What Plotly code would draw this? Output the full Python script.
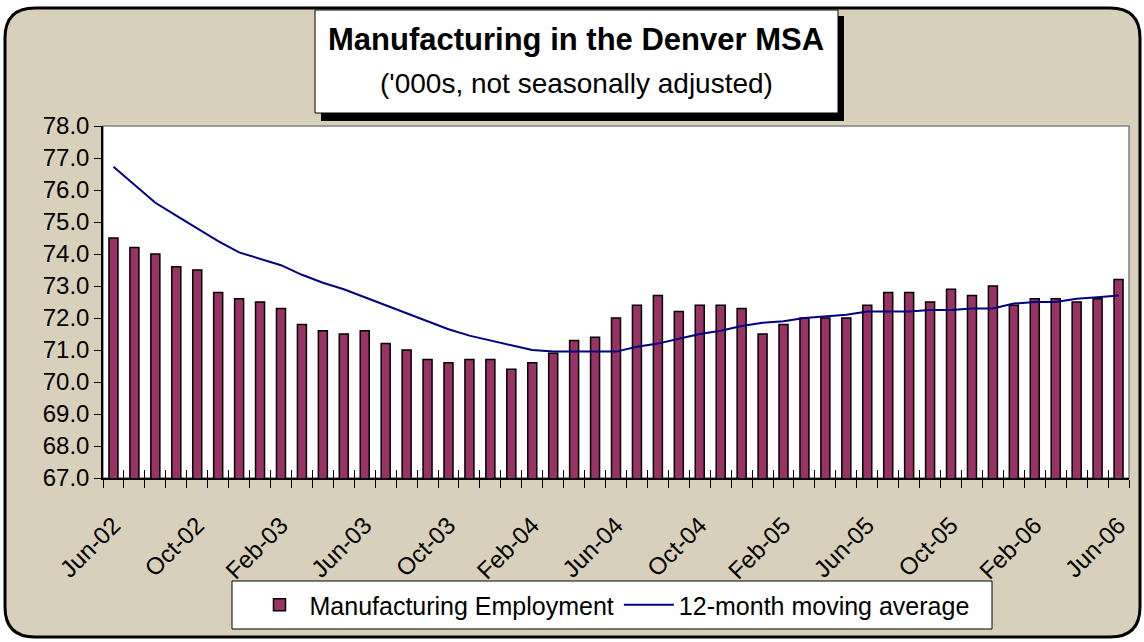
import plotly.graph_objects as go

# monthly categories Jun-02 .. Jun-06
months = ["Jan", "Feb", "Mar", "Apr", "May", "Jun", "Jul", "Aug", "Sep", "Oct", "Nov", "Dec"]
categories = []
for yr in range(2, 7):
    for m in months:
        categories.append(f"{m}-{yr:02d}")
categories = categories[5:5 + 49]

employment = [74.5, 74.2, 74.0, 73.6, 73.5, 72.8, 72.6, 72.5, 72.3, 71.8, 71.6, 71.5,
              71.6, 71.2, 71.0, 70.7, 70.6, 70.7, 70.7, 70.4, 70.6, 70.9, 71.3, 71.4,
              72.0, 72.4, 72.7, 72.2, 72.4, 72.4, 72.3, 71.5, 71.8, 72.0, 72.0, 72.0,
              72.4, 72.8, 72.8, 72.5, 72.9, 72.7, 73.0, 72.4, 72.6, 72.6, 72.5, 72.6,
              73.2]

moving_avg = [76.73, 76.15, 75.6, 75.2, 74.8, 74.4, 74.05, 73.85, 73.65, 73.35, 73.1, 72.9,
              72.65, 72.4, 72.15, 71.9, 71.65, 71.45, 71.3, 71.15, 71.0, 70.95, 70.95, 70.95,
              70.95, 71.1, 71.2, 71.35, 71.5, 71.6, 71.75, 71.85, 71.9, 72.0, 72.05, 72.1,
              72.2, 72.2, 72.2, 72.25, 72.25, 72.3, 72.3, 72.45, 72.5, 72.5, 72.6, 72.65,
              72.7]

# label every 4th month
tick_text = [c if i % 4 == 0 else "" for i, c in enumerate(categories)]

W, H = 1144, 642
L, R, T, B = 103, 1129, 126, 478
FONT = "Liberation Sans, Arial, sans-serif"


def px(x):
    return (x - L) / (R - L)


def py(y):
    return (B - y) / (B - T)


fig = go.Figure()
fig.add_trace(go.Bar(x=categories, y=employment, name="Manufacturing Employment",
                     marker=dict(color="#993366", line=dict(color="black", width=1.5))))
fig.add_trace(go.Scatter(x=categories, y=moving_avg, name="12-month moving average",
                         mode="lines", line=dict(color="#000080", width=2), xaxis="x2"))

# rounded outer frame
x0, x1, y0, y1, r = 5, 1140, 8, 637, 30
rx, ry = r / (R - L), r / (B - T)
X0, X1, Y0, Y1 = px(x0), px(x1), py(y0), py(y1)
path = (f"M {X0 + rx} {Y0} L {X1 - rx} {Y0} Q {X1} {Y0} {X1} {Y0 - ry} "
        f"L {X1} {Y1 + ry} Q {X1} {Y1} {X1 - rx} {Y1} "
        f"L {X0 + rx} {Y1} Q {X0} {Y1} {X0} {Y1 + ry} "
        f"L {X0} {Y0 - ry} Q {X0} {Y0} {X0 + rx} {Y0} Z")

shapes = [
    dict(type="path", path=path, xref="paper", yref="paper", layer="below",
         fillcolor="#d9d0bb", line=dict(color="black", width=3)),
    dict(type="rect", xref="paper", yref="paper", x0=0, x1=1, y0=0, y1=1, layer="below",
         fillcolor="white", line=dict(color="#808080", width=1.5)),
    # title box shadow + box
    dict(type="rect", xref="paper", yref="paper", x0=px(321), x1=px(844), y0=py(121), y1=py(16),
         fillcolor="black", line=dict(width=0), layer="above"),
    dict(type="rect", xref="paper", yref="paper", x0=px(315), x1=px(838), y0=py(113), y1=py(10),
         fillcolor="white", line=dict(color="black", width=1), layer="above"),
    # legend box
    dict(type="rect", xref="paper", yref="paper", x0=px(232), x1=px(992), y0=py(629), y1=py(581),
         fillcolor="white", line=dict(color="black", width=1), layer="below"),
]

annotations = [
    dict(text="<b>Manufacturing in the Denver MSA</b>", x=px(576), y=py(39), xref="paper",
         yref="paper", xanchor="center", yanchor="middle", showarrow=False,
         font=dict(size=31, color="black", family=FONT)),
    dict(text="('000s, not seasonally adjusted)", x=px(576), y=py(84), xref="paper",
         yref="paper", xanchor="center", yanchor="middle", showarrow=False,
         font=dict(size=28, color="black", family=FONT)),
]

fig.update_layout(
    width=W, height=H,
    margin=dict(l=L, r=W - R, t=T, b=H - B),
    paper_bgcolor="white", plot_bgcolor="white",
    font=dict(family=FONT, size=24, color="black"),
    bargap=0.57,
    showlegend=True,
    legend=dict(orientation="h", x=px(612), y=py(605), xanchor="center", yanchor="middle",
                bgcolor="rgba(0,0,0,0)", font=dict(size=25), itemwidth=50,
                traceorder="normal"),
    shapes=shapes,
    annotations=annotations,
    xaxis=dict(type="category", tickmode="array", tickvals=categories, ticktext=tick_text,
               tickangle=-45, tickson="boundaries", ticks="outside", ticklen=8,
               ticklabelstandoff=22,
               tickcolor="black", showline=True, linecolor="black", linewidth=1.5,
               showgrid=False, tickfont=dict(size=24)),
    xaxis2=dict(type="category", matches="x", overlaying="x", anchor="y", side="bottom",
                tickmode="array", tickvals=categories, showticklabels=False,
                tickson="boundaries", ticks="inside", ticklen=8, tickcolor="black",
                showline=False, showgrid=False),
    yaxis=dict(range=[67, 78], dtick=1, tickformat=".1f", ticks="outside", ticklen=7,
               tickcolor="black", showline=True, linecolor="black", linewidth=1.5,
               showgrid=False, zeroline=False, tickfont=dict(size=24)),
)

fig.write_html("out.html", config={"displayModeBar": False},
               post_script="document.body.style.margin='0';")
